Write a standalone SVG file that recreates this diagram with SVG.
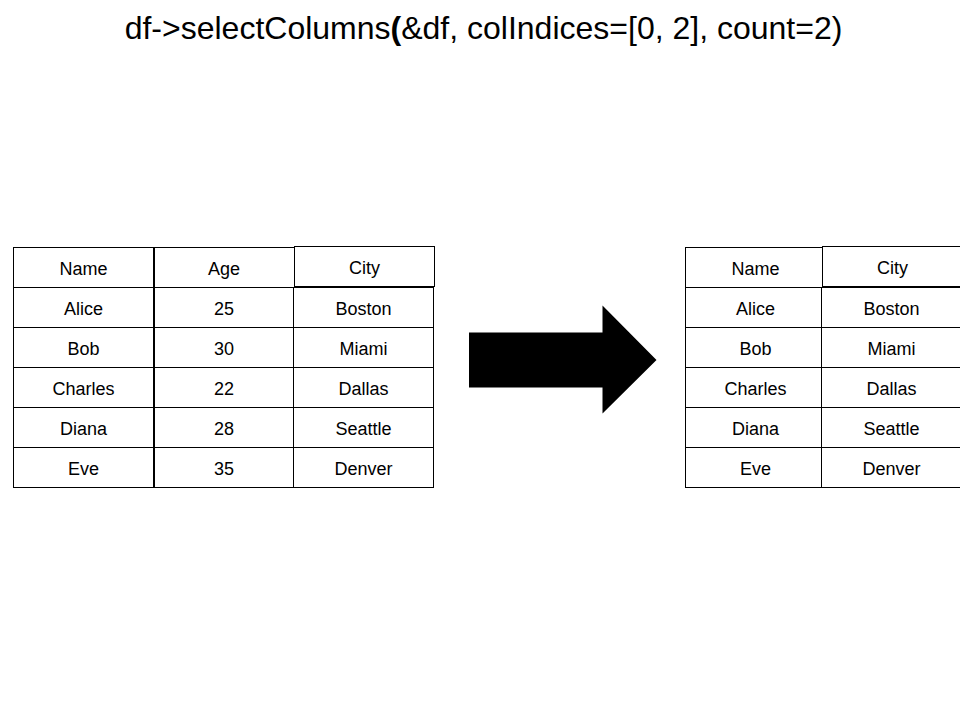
<svg xmlns="http://www.w3.org/2000/svg" width="960" height="720" viewBox="0 0 960 720">
<style>
.c{fill:#fff;stroke:#000;stroke-width:1}
.t{font-family:"Liberation Sans",Arial,sans-serif;font-size:18px;fill:#000;text-anchor:middle}
.title{font-family:"Liberation Sans",Arial,sans-serif;font-size:32px;fill:#000;text-anchor:middle}
</style>
<rect width="960" height="720" fill="#fff"/>
<text class="title" x="483.5" y="39">df-&gt;selectColumns<tspan font-weight="bold">(</tspan>&amp;df, colIndices=[0, 2], count=2)</text>
<g id="left-name">
<rect class="c" x="13.5" y="247.5" width="140" height="40"/>
<rect class="c" x="13.5" y="287.5" width="140" height="40"/>
<rect class="c" x="13.5" y="327.5" width="140" height="40"/>
<rect class="c" x="13.5" y="367.5" width="140" height="40"/>
<rect class="c" x="13.5" y="407.5" width="140" height="40"/>
<rect class="c" x="13.5" y="447.5" width="140" height="40"/>
<text class="t" x="83.5" y="275">Name</text>
<text class="t" x="83.5" y="315">Alice</text>
<text class="t" x="83.5" y="355">Bob</text>
<text class="t" x="83.5" y="395">Charles</text>
<text class="t" x="83.5" y="435">Diana</text>
<text class="t" x="83.5" y="475">Eve</text>
</g>
<g id="left-age">
<rect class="c" x="154.5" y="247.5" width="140" height="40"/>
<rect class="c" x="154.5" y="287.5" width="139" height="40"/>
<rect class="c" x="154.5" y="327.5" width="139" height="40"/>
<rect class="c" x="154.5" y="367.5" width="139" height="40"/>
<rect class="c" x="154.5" y="407.5" width="139" height="40"/>
<rect class="c" x="154.5" y="447.5" width="139" height="40"/>
<text class="t" x="224" y="275">Age</text>
<text class="t" x="224" y="315">25</text>
<text class="t" x="224" y="355">30</text>
<text class="t" x="224" y="395">22</text>
<text class="t" x="224" y="435">28</text>
<text class="t" x="224" y="475">35</text>
</g>
<g id="left-city">
<rect class="c" x="294.5" y="246.5" width="140" height="40"/>
<rect class="c" x="293.5" y="287.5" width="140" height="40"/>
<rect class="c" x="293.5" y="327.5" width="140" height="40"/>
<rect class="c" x="293.5" y="367.5" width="140" height="40"/>
<rect class="c" x="293.5" y="407.5" width="140" height="40"/>
<rect class="c" x="293.5" y="447.5" width="140" height="40"/>
<text class="t" x="364.5" y="274">City</text>
<text class="t" x="363.5" y="315">Boston</text>
<text class="t" x="363.5" y="355">Miami</text>
<text class="t" x="363.5" y="395">Dallas</text>
<text class="t" x="363.5" y="435">Seattle</text>
<text class="t" x="363.5" y="475">Denver</text>
</g>
<g id="connectors">
<polygon points="469,332.5 602.5,332.5 602.5,305.5 656.5,360 602.5,413.5 602.5,387.5 469,387.5" fill="#000"/>
</g>
<g id="right-name">
<rect class="c" x="685.5" y="247.5" width="140" height="40"/>
<rect class="c" x="685.5" y="287.5" width="140" height="40"/>
<rect class="c" x="685.5" y="327.5" width="140" height="40"/>
<rect class="c" x="685.5" y="367.5" width="140" height="40"/>
<rect class="c" x="685.5" y="407.5" width="140" height="40"/>
<rect class="c" x="685.5" y="447.5" width="140" height="40"/>
<text class="t" x="755.5" y="275">Name</text>
<text class="t" x="755.5" y="315">Alice</text>
<text class="t" x="755.5" y="355">Bob</text>
<text class="t" x="755.5" y="395">Charles</text>
<text class="t" x="755.5" y="435">Diana</text>
<text class="t" x="755.5" y="475">Eve</text>
</g>
<g id="right-city">
<rect class="c" x="822.5" y="246.5" width="140" height="40"/>
<rect class="c" x="821.5" y="287.5" width="140" height="40"/>
<rect class="c" x="821.5" y="327.5" width="140" height="40"/>
<rect class="c" x="821.5" y="367.5" width="140" height="40"/>
<rect class="c" x="821.5" y="407.5" width="140" height="40"/>
<rect class="c" x="821.5" y="447.5" width="140" height="40"/>
<text class="t" x="892.5" y="274">City</text>
<text class="t" x="891.5" y="315">Boston</text>
<text class="t" x="891.5" y="355">Miami</text>
<text class="t" x="891.5" y="395">Dallas</text>
<text class="t" x="891.5" y="435">Seattle</text>
<text class="t" x="891.5" y="475">Denver</text>
</g>
</svg>
